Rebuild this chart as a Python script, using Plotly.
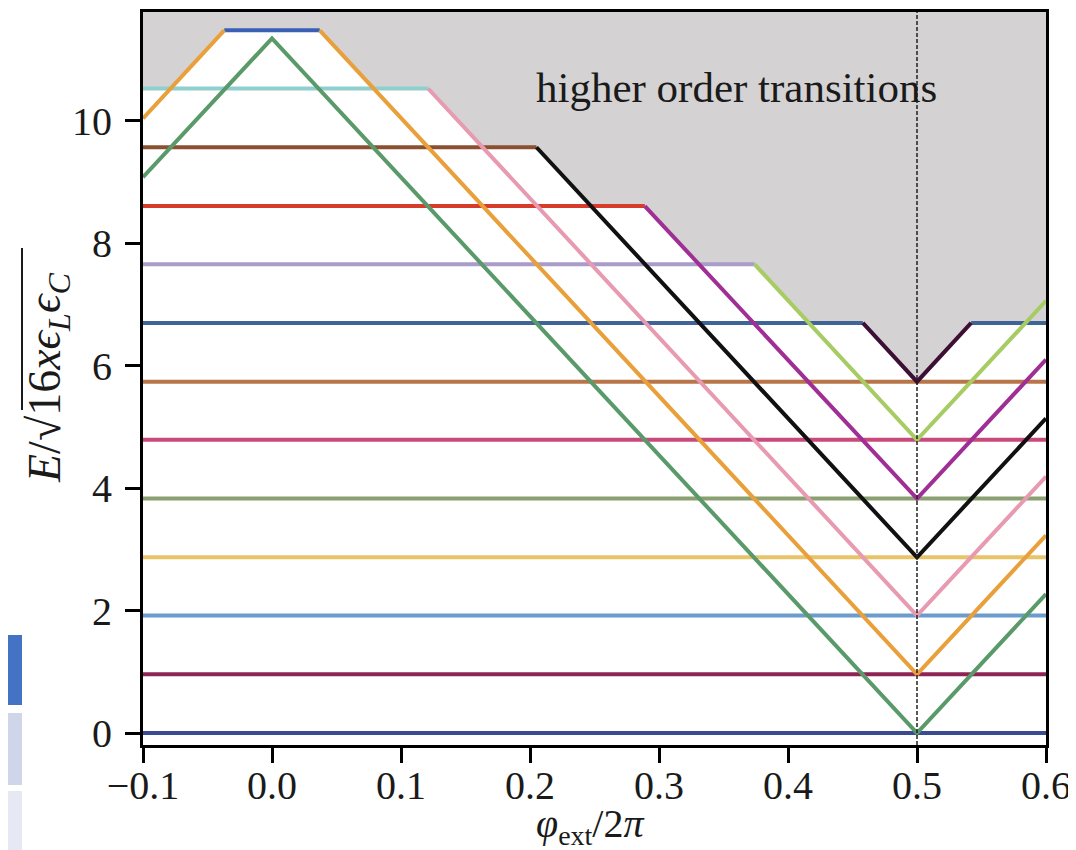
import plotly.graph_objects as go

# ---------------- data ----------------
# horizontal energy levels: energy, x-start, x-end, colour
level_E = [0.00, 0.96, 1.92, 2.87, 3.83, 4.79, 5.74, 6.70, 6.70, 7.66, 8.61, 9.57, 10.53, 11.48]
level_x0 = [-0.1, -0.1, -0.1, -0.1, -0.1, -0.1, -0.1, -0.1, 0.542, -0.1, -0.1, -0.1, -0.1, -0.037]
level_x1 = [0.6, 0.6, 0.6, 0.6, 0.6, 0.6, 0.6, 0.458, 0.6, 0.374, 0.289, 0.205, 0.121, 0.037]
level_colors = ["#3b4b93", "#8e2355", "#6a9ccc", "#e8c468", "#8aa070", "#c84a7a",
                "#b8754a", "#3f6495", "#3f6495", "#a99cc9", "#d63b2c", "#8b5030",
                "#8fcfcf", "#3a5fb5"]

# flux-dependent (V-shaped) branches
green_x = [-0.1, 0.0, 0.5, 0.6]
green_E = [9.08, 11.35, 0.00, 2.27]
orange_x = [-0.1, -0.037, None, 0.037, 0.5, 0.6]
orange_E = [10.04, 11.48, None, 11.48, 0.96, 3.23]
pink_x = [0.121, 0.5, 0.6]
pink_E = [10.53, 1.92, 4.19]
black_x = [0.205, 0.5, 0.6]
black_E = [9.57, 2.87, 5.14]
purple_x = [0.289, 0.5, 0.6]
purple_E = [8.61, 3.83, 6.10]
lime_x = [0.374, 0.5, 0.6]
lime_E = [7.66, 4.79, 7.06]
plum_x = [0.458, 0.5, 0.542]
plum_E = [6.70, 5.74, 6.70]

branches = [
    (green_x, green_E, "#5a9a6a"),
    (orange_x, orange_E, "#e9a03b"),
    (pink_x, pink_E, "#e89ab0"),
    (black_x, black_E, "#111111"),
    (purple_x, purple_E, "#a02f95"),
    (lime_x, lime_E, "#a6cc63"),
    (plum_x, plum_E, "#3d0f35"),
]

# lower edge of the "higher order transitions" region
gray_x = [-0.1, -0.078, -0.037, 0.037, 0.078, 0.121, 0.163, 0.205, 0.247, 0.289,
          0.331, 0.374, 0.416, 0.458, 0.5, 0.542, 0.6]
gray_E = [10.53, 10.53, 11.48, 11.48, 10.53, 10.53, 9.57, 9.57, 8.61, 8.61,
          7.66, 7.66, 6.70, 6.70, 5.74, 6.70, 6.70]

symmetry_flux = 0.5

x_tickvals = [-0.1, 0.0, 0.1, 0.2, 0.3, 0.4, 0.5, 0.6]
x_ticktext = ["\u22120.1", "0.0", "0.1", "0.2", "0.3", "0.4", "0.5", "0.6"]
y_tickvals = [0, 2, 4, 6, 8, 10]
y_ticktext = ["0", "2", "4", "6", "8", "10"]

X_RANGE = [-0.1, 0.6]
Y_RANGE = [-0.196, 11.78]

FONT = "Liberation Serif"
TXT = "#1a1a1a"
LW = 4

# the page body adds an 8px offset; figure is sized so the plot area
# lands at screen pixels x 143..1046, y 12..745
OFF = 8
FW, FH = 1076 - OFF, 850 - OFF
L, T = 143 - OFF, 12 - OFF
PW, PH = 903, 733
R, B = FW - L - PW, FH - T - PH


def px(xs):   # screen pixel -> paper x
    return (xs - OFF - L) / PW


def py(ys):   # screen pixel -> paper y
    return (T + PH - (ys - OFF)) / PH


# ---------------- figure ----------------
fig = go.Figure()

# gray region
fig.add_trace(go.Scatter(
    x=gray_x + [X_RANGE[1], X_RANGE[0]],
    y=gray_E + [Y_RANGE[1] + 1, Y_RANGE[1] + 1],
    fill="toself", fillcolor="#d4d2d3", mode="none",
    hoverinfo="skip", showlegend=False,
))

# horizontal levels
for E, x0, x1, c in zip(level_E, level_x0, level_x1, level_colors):
    fig.add_trace(go.Scatter(
        x=[x0, x1], y=[E, E], mode="lines",
        line=dict(color=c, width=LW), showlegend=False, hoverinfo="skip",
    ))

# V branches
for bx, bE, c in branches:
    fig.add_trace(go.Scatter(
        x=bx, y=bE, mode="lines", connectgaps=False,
        line=dict(color=c, width=LW), showlegend=False, hoverinfo="skip",
    ))

# dashed line at half flux quantum
fig.add_shape(type="line", xref="x", yref="paper",
              x0=symmetry_flux, x1=symmetry_flux, y0=0, y1=1,
              line=dict(color="#222222", width=1.5, dash="4px,2px"),
              layer="above")

fig.add_annotation(x=0.36, y=10.55, xref="x", yref="y",
                   text="higher order transitions", showarrow=False,
                   font=dict(family=FONT, size=43, color=TXT),
                   xanchor="center", yanchor="middle")

# axis titles
fig.add_annotation(x=px(590), y=py(826), xref="paper", yref="paper",
                   text="<i>\u03c6</i><sub>ext</sub>/2<i>\u03c0</i>",
                   showarrow=False, xanchor="center", yanchor="middle",
                   font=dict(family=FONT, size=40, color=TXT))
fig.add_annotation(x=px(48), y=py(378), xref="paper", yref="paper",
                   text="<i>E</i>/\u221a16<i>x\u03f5</i><sub><i>L</i></sub><i>\u03f5</i><sub><i>C</i></sub>",
                   textangle=-90, showarrow=False,
                   xanchor="center", yanchor="middle",
                   font=dict(family=FONT, size=46, color=TXT))
# vinculum of the square root
fig.add_shape(type="line", xref="paper", yref="paper",
              x0=px(22), x1=px(22), y0=py(410), y1=py(248),
              line=dict(color=TXT, width=2))

# artefacts at the far left of the reference screenshot
for (p0, p1, col) in [(635, 705, "#4472c4"), (713, 785, "#cfd6ea"), (791, 850, "#e6e9f4")]:
    fig.add_shape(type="rect", xref="paper", yref="paper",
                  x0=px(0), x1=px(22), y0=py(p1), y1=py(p0),
                  line=dict(width=0), fillcolor=col, layer="below")

axis_common = dict(
    showgrid=False, zeroline=False, showline=True, linecolor="black",
    linewidth=3, mirror=True, ticks="outside", ticklen=15, tickwidth=2.5,
    tickcolor="black", tickfont=dict(family=FONT, size=40, color=TXT),
    automargin=False,
)

fig.update_layout(
    width=FW, height=FH,
    margin=dict(l=L, r=R, t=T, b=B),
    paper_bgcolor="white", plot_bgcolor="white",
    xaxis=dict(range=X_RANGE, tickvals=x_tickvals, ticktext=x_ticktext,
               ticklabelstandoff=-12, **axis_common),
    yaxis=dict(range=Y_RANGE, tickvals=y_tickvals, ticktext=y_ticktext,
               ticklabelstandoff=5, **axis_common),
)

fig.write_html("out.html")
